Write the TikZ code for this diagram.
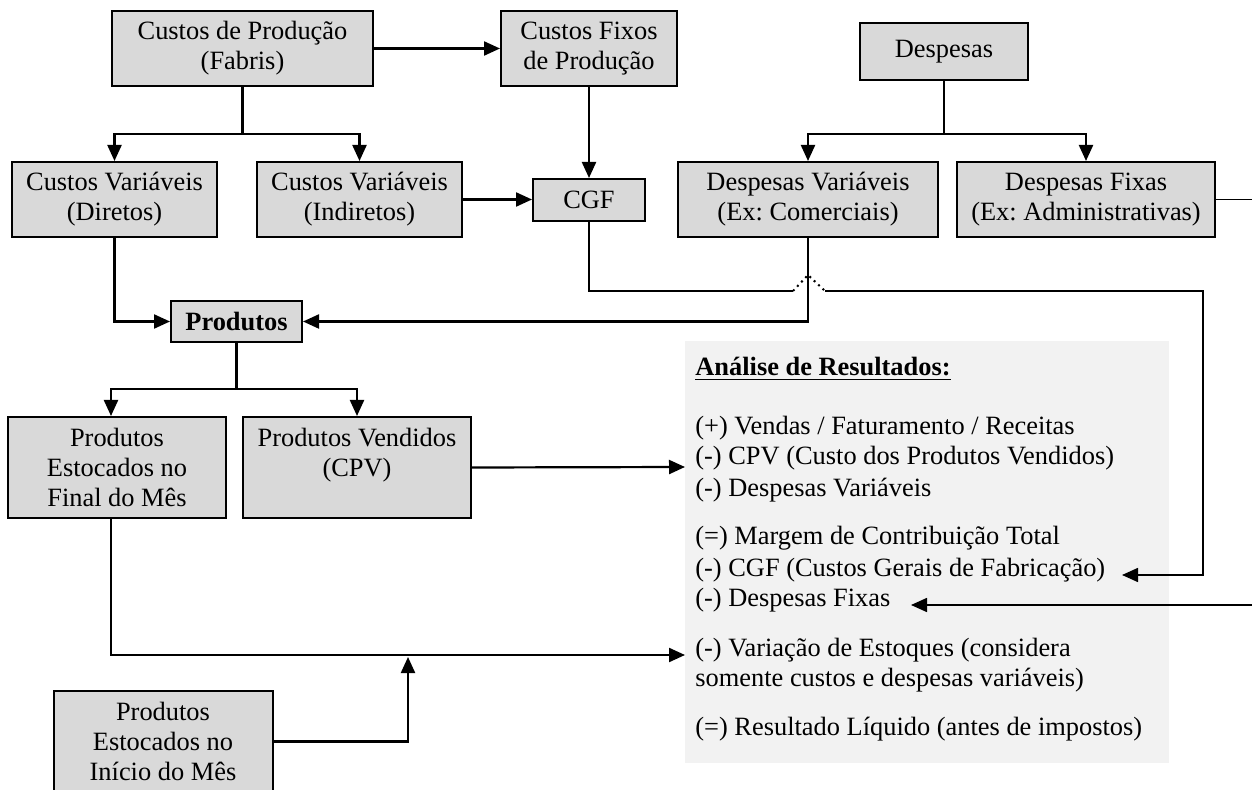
\documentclass[tikz,border=0pt]{standalone}
\usepackage{fontspec}
\setmainfont{Liberation Serif}
\usetikzlibrary{arrows.meta}
\definecolor{boxgray}{HTML}{D9D9D9}
\definecolor{panelgray}{HTML}{F2F2F2}
\frenchspacing
\tikzset{
  box/.style={draw, fill=boxgray, line width=1pt, align=center, inner sep=0pt},
  link/.style={line width=1.1pt},
  fina/.style={line width=0.8pt},
  arr/.style={link, -{Triangle[length=8pt,width=7pt]}},
  finarr/.style={fina, -{Triangle[length=8pt,width=7pt]}},
  res/.style={anchor=base west, inner sep=0pt},
}
\begin{document}
\begin{tikzpicture}[x=0.5pt, y=-0.5pt, font=\fontsize{13.2}{15}\selectfont]
  \useasboundingbox (0,0) rectangle (1252,790);
  % painel de resultados
  \fill[panelgray] (685,341) rectangle (1169,763);

  % caixas
  \node[box, minimum width=130.5pt, minimum height=37.5pt] (prod) at (242.5,48.5) {Custos de Produção\\(Fabris)};
  \node[box, minimum width=88pt, minimum height=37.5pt] (fixos) at (589,48.5) {Custos Fixos\\de Produção};
  \node[box, minimum width=84pt, minimum height=28.5pt] (desp) at (944,51.5) {Despesas};
  \node[box, minimum width=102.5pt, minimum height=37.5pt] (cvd) at (114.5,199.5) {Custos Variáveis\\(Diretos)};
  \node[box, minimum width=102.5pt, minimum height=37.5pt] (cvi) at (359.5,199.5) {Custos Variáveis\\(Indiretos)};
  \node[box, minimum width=56pt, minimum height=21pt] (cgf) at (589,200) {CGF};
  \node[box, minimum width=130pt, minimum height=37.5pt] (dv) at (808,199.5) {Despesas Variáveis\\(Ex: Comerciais)};
  \node[box, minimum width=129pt, minimum height=37.5pt] (df) at (1086,199.5) {Despesas Fixas\\(Ex: Administrativas)};
  \node[box, minimum width=65.5pt, minimum height=20.5pt] (produtos) at (236.5,321.5) {\textbf{Produtos}};
  \node[box, minimum width=109pt, minimum height=50.5pt] (pef) at (117,467.5) {Produtos\\Estocados no\\Final do Mês};
  \node[box, minimum width=114pt, minimum height=50.5pt] (pv) at (357,467.5) {Produtos Vendidos\\(CPV)\\~};
  \node[box, minimum width=109.5pt, minimum height=50.5pt] (pei) at (163,741.5) {Produtos\\Estocados no\\Início do Mês};

  % analise de resultados
  \node[res] (titulo) at (695,376) {\textbf{\underline{Análise de Resultados:}}};
  \node[res] (r1) at (695,435) {(+) Vendas / Faturamento / Receitas};
  \node[res] (r2) at (695,465) {(-) CPV (Custo dos Produtos Vendidos)};
  \node[res] (r3) at (695,496) {(-) Despesas Variáveis};
  \node[res] (r4) at (695,545) {(=) Margem de Contribuição Total};
  \node[res] (r5) at (695,576) {(-) CGF (Custos Gerais de Fabricação)};
  \node[res] (r6) at (695,606) {(-) Despesas Fixas};
  \node[res] (r7) at (695,656) {(-) Variação de Estoques (considera};
  \node[res] (r8) at (695,686) {somente custos e despesas variáveis)};
  \node[res] (r9) at (695,735) {(=) Resultado Líquido (antes de impostos)};

  % pontos livres
  \coordinate (salto) at (808,291);
  \coordinate (canto) at (1203,575);
  \coordinate (cgfin) at (1122,575);
  \coordinate (saida) at (1252,199.5);
  \coordinate (entrada) at (1252,605);
  \coordinate (dfin) at (911,605);
  \coordinate (cpvin) at (685,467);
  \coordinate (varin) at (685,655);
  \coordinate (junta) at (408,657);

  % ligacoes
  \draw[arr] (prod) -- (fixos);
  \draw[link] (prod.south) -- ++(0,47) coordinate (t1);
  \draw[arr] (t1) -| (cvd.north);
  \draw[arr] (t1) -| (cvi.north);
  \draw[arr] (fixos) -- (cgf);
  \draw[arr] (cvi.east) -- (cvi.east -| cgf.west);
  \draw[link] (desp.south) -- ++(0,53) coordinate (t2);
  \draw[arr] (t2) -| (dv.north);
  \draw[arr] (t2) -| (df.north);
  \draw[arr] (cvd.south) |- (produtos.west);
  \draw[arr] (dv.south) |- (produtos.east);
  \draw[fina] (cgf.south) |- ([xshift=-7.5pt]salto);
  \draw[line width=1pt, dotted] ([xshift=-7.5pt]salto) -- ([yshift=8pt]salto) -- ([xshift=8.5pt]salto);
  \draw[finarr] ([xshift=8.5pt]salto) -| (canto) -- (cgfin);
  \draw[fina] (df.east) -- (saida);
  \draw[finarr] (entrada) -- (dfin);
  \draw[link] (produtos.south) -- ++(0,46) coordinate (t3);
  \draw[arr] (t3) -| ([xshift=-3pt]pef.north);
  \draw[arr] (t3) -| (pv.north);
  \draw[arr] (pv.east) -- (cpvin);
  \draw[arr] ([xshift=-3pt]pef.south) |- (varin);
  \draw[arr] (pei.east) -| (junta);
\end{tikzpicture}
\end{document}
